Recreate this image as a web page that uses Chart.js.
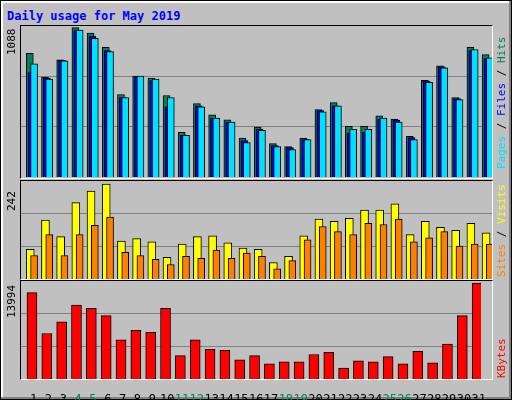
<!DOCTYPE html>
<html>
<head>
<meta charset="utf-8">
<script src="https://cdn.jsdelivr.net/npm/chart.js@4"></script>
<style>
  body { margin: 0; background: #C0C0C0; }
  #frame { position: absolute; left: 0; top: 0; width: 510px; height: 398px; border: 1px solid #000;
           box-shadow: inset -2px -2px 0 #808080, inset 2px 2px 0 #fff; background: #C0C0C0;
           font-family: "DejaVu Sans Mono", monospace; }
  .title { position: absolute; left: 6px; top: 8px; color: #0000FF; font-weight: bold; font-size: 12px; }
  .panel { position: absolute; left: 20px; width: 471px; }
  .box { position: absolute; left: 19px; width: 471px; border-top: 1px solid #000; border-left: 1px solid #000;
         border-right: 1px solid #fff; border-bottom: 1px solid #fff; pointer-events: none; }
  .ylab { position: absolute; font-size: 11px; color: #000; transform: rotate(-90deg); transform-origin: left top; }
  .rlab { position: absolute; font-size: 11px; transform: rotate(-90deg); transform-origin: left top; white-space: nowrap; }
</style>
</head>
<body>
<div id="frame">
  <div class="title">Daily usage for May 2019</div>
  <div class="panel" style="top:25px;height:151px"><canvas id="c1"></canvas></div>
  <div class="panel" style="top:180px;height:98px"><canvas id="c2"></canvas></div>
  <div class="panel" style="top:280px;height:120px"><canvas id="c3"></canvas></div>
  <div class="box" style="top:24px;height:152px"></div>
  <div class="box" style="top:179px;height:98px"></div>
  <div class="box" style="top:279px;height:98px"></div>
  <div class="ylab" style="left:4px;top:54px">1088</div>
  <div class="ylab" style="left:4px;top:210px">242</div>
  <div class="ylab" style="left:4px;top:317px">13994</div>
  <div class="rlab" style="left:494px;top:168px"><span style="color:#00E0FF">Pages</span> / <span style="color:#0000FF">Files</span> / <span style="color:#00805C">Hits</span></div>
  <div class="rlab" style="left:494px;top:276px"><span style="color:#FF8000">Sites</span> / <span style="color:#FFFF00">Visits</span></div>
  <div class="rlab" style="left:494px;top:377px"><span style="color:#FF0000">KBytes</span></div>
</div>
<script>
const days = Array.from({length: 31}, (_, i) => i + 1);
const weekendDays = [4, 5, 11, 12, 18, 19, 25, 26];
const hits = [900, 728, 853, 1088, 1048, 944, 601, 735, 720, 594, 325, 535, 453, 417, 283, 363, 243, 221, 283, 492, 542, 370, 370, 445, 422, 296, 705, 810, 579, 944, 892];
const files = [760, 720, 850, 1071, 1026, 921, 579, 728, 703, 512, 303, 519, 430, 400, 266, 348, 229, 214, 273, 484, 519, 318, 325, 422, 415, 288, 698, 802, 571, 921, 862];
const pages = [825, 713, 847, 1071, 1011, 914, 579, 735, 713, 579, 303, 512, 430, 400, 251, 340, 221, 199, 273, 475, 519, 348, 348, 430, 400, 273, 690, 795, 564, 929, 869];
const visits = [76, 150, 108, 195, 224, 242, 97, 103, 95, 55, 89, 108, 110, 92, 79, 76, 42, 58, 110, 153, 147, 155, 176, 176, 192, 113, 147, 132, 124, 142, 118];
const sites = [60, 113, 60, 113, 137, 158, 68, 60, 50, 37, 58, 53, 74, 53, 66, 58, 26, 47, 100, 134, 121, 113, 142, 139, 153, 95, 105, 121, 84, 89, 89];
const kbytes = [12614, 6639, 8325, 10776, 10317, 9244, 5720, 7099, 6792, 10317, 3422, 5720, 4341, 4188, 2809, 3422, 2196, 2502, 2502, 3575, 3881, 1583, 2656, 2502, 3268, 2196, 4034, 2349, 5107, 9244, 13994];

// later series sit in front, so they get a lower draw order
function series(values, offset, color, width, order) {
    return {
        data: values.map((v, i) => ({x: days[i] + offset, y: v})),
        backgroundColor: color,
        borderColor: '#000',
        borderWidth: 1,
        borderSkipped: 'bottom',
        barThickness: width,
        grouped: false,
        order: order
    };
}

function panel(id, datasets, max, showDays) {
    new Chart(document.getElementById(id), {
        type: 'bar',
        data: { datasets: datasets },
        options: {
            responsive: true,
            maintainAspectRatio: false,
            animation: false,
            layout: { padding: 0 },
            plugins: { legend: { display: false }, tooltip: { enabled: false } },
            scales: {
                x: {
                    type: 'linear', min: 0.5, max: 31.5, offset: false,
                    display: showDays,
                    grid: { display: false },
                    border: { display: false },
                    afterBuildTicks: axis => { axis.ticks = days.map(d => ({value: d + 0.35})); },
                    afterFit: axis => { if (showDays) axis.height = 22; },
                    ticks: {
                        autoSkip: false, maxRotation: 0, padding: 6,
                        font: { family: 'DejaVu Sans Mono', size: 12 },
                        color: ctx => weekendDays.includes(Math.round(ctx.tick.value - 0.35)) ? '#00805C' : '#000',
                        callback: v => String(Math.round(v - 0.35))
                    }
                },
                y: {
                    min: 0, max: max,
                    afterBuildTicks: axis => { axis.ticks = [1, 2].map(k => ({value: max * k / 3})); },
                    afterFit: axis => { axis.width = 0; },
                    grid: { color: '#808080', lineWidth: 1, drawTicks: false },
                    border: { display: false },
                    ticks: { display: false }
                }
            }
        }
    });
}

panel('c1', [
    series(hits, 0.08, '#00805C', 7, 3),
    series(files, 0.2, '#0000FF', 7, 2),
    series(pages, 0.36, '#00E0FF', 7, 1)
], 1100, false);
panel('c2', [
    series(visits, 0.11, '#FFFF00', 8, 2),
    series(sites, 0.36, '#FF8000', 7, 1)
], 250, false);
panel('c3', [
    series(kbytes, 0.24, '#FF0000', 10, 1)
], 14300, true);
</script>
</body>
</html>
